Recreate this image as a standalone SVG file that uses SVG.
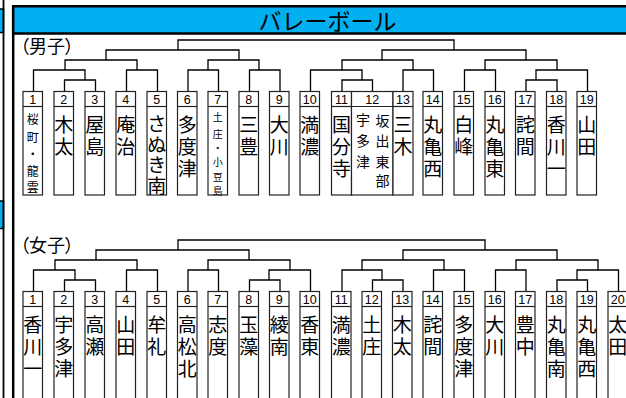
<svg xmlns="http://www.w3.org/2000/svg" width="626" height="398" viewBox="0 0 626 398">
<style>
.br{fill:none;stroke:#000;stroke-width:1.3}
.box{fill:#fff;stroke:#222;stroke-width:1.2}
.dv{fill:none;stroke:#222;stroke-width:1.2}
.num{font-family:"Liberation Sans",Arial,sans-serif;font-size:12.5px;text-anchor:middle;fill:#000}
.nm{font-family:"Noto Sans CJK JP","Noto Sans CJK SC",sans-serif;font-size:19px;text-anchor:middle;dominant-baseline:central;fill:#000}
.s12{font-size:12px}
.s10{font-size:10px}
.s14{font-size:14px}
.lbl{font-family:"Noto Sans CJK JP","Noto Sans CJK SC",sans-serif;font-size:18px;dominant-baseline:central;font-feature-settings:"palt";fill:#000}
.ttl{font-family:"Noto Sans CJK JP","Noto Sans CJK SC",sans-serif;font-size:23px;text-anchor:middle;dominant-baseline:central;fill:#000}
.hdr{fill:#00B0F0;stroke:#000}
</style>
<rect width="626" height="398" fill="#fff"/>
<g id="left-panel">
<rect class="hdr" x="-6" y="9" width="9.5" height="23.5" stroke-width="1.5"/>
<rect class="hdr" x="-6" y="201" width="9.5" height="27.5" stroke-width="1.5"/>
<line x1="3.5" y1="0" x2="3.5" y2="398" stroke="#000" stroke-width="1.8"/>
</g>
<g id="main-panel">
<line x1="13.2" y1="5" x2="13.2" y2="398" stroke="#000" stroke-width="2.5"/>
<rect class="hdr" x="13.2" y="6.25" width="630" height="27.25" stroke-width="2.5"/>
<text class="ttl" x="327.5" y="19.5">バレーボール</text>
<text class="lbl" x="20" y="45">（男子）</text>
<text class="lbl" x="20" y="243.5">（女子）</text>
</g>
<g id="connectors">
<path class="br" d="M178,50V40H454V50M106,60V50H239V60M382,60V50H526V60M65,70V60H137V70M208,70V60H259V70M342,70V60H413V70M485,70V60H557V70M33.5,91.5V70H85V80M64.5,91.5V80H95.5V91.5M126.5,91.5V70H157.5V91.5M188,91.5V70H218.5V91.5M249.5,91.5V70H280V91.5M310.5,91.5V70H362V80M342,91.5V80H372.5V91.5M403,91.5V70H433.5V91.5M464.5,91.5V70H495.5V91.5M536,80V70H587.5V91.5M526,91.5V80H557V91.5"/>
<path class="br" d="M178,250V240H485V250M96,260V250H249V260M403,260V250H557V260M55,270V260H137V270M208,270V260H290V270M362,270V260H444V270M516,270V260H598V270M33.5,291.5V270H75V280M64.5,291.5V280H95.5V291.5M126.5,291.5V270H157.5V291.5M188,291.5V270H218.5V291.5M269,280V270H310.5V291.5M249.5,291.5V280H280V291.5M342,291.5V270H382V280M372.5,291.5V280H403V291.5M433.5,291.5V270H464.5V291.5M495.5,291.5V270H526V291.5M577,280V270H618.5V291.5M557,291.5V280H587.5V291.5"/>
</g>
<g id="m1"><rect class="box" x="23" y="91.5" width="19.5" height="103.5"/><path class="dv" d="M23,106.5h19.5"/><text class="num" x="32.75" y="104">1</text><text class="nm s12"><tspan x="32.75" y="118">桜</tspan><tspan x="32.75" y="136">町</tspan><tspan x="32.75" y="153">・</tspan><tspan x="32.75" y="170">龍</tspan><tspan x="32.75" y="186">雲</tspan></text></g>
<g id="m2"><rect class="box" x="54" y="91.5" width="19.5" height="103.5"/><path class="dv" d="M54,106.5h19.5"/><text class="num" x="63.75" y="104">2</text><text class="nm"><tspan x="63.75" y="123">木</tspan><tspan x="63.75" y="145">太</tspan></text></g>
<g id="m3"><rect class="box" x="85" y="91.5" width="19.5" height="103.5"/><path class="dv" d="M85,106.5h19.5"/><text class="num" x="94.75" y="104">3</text><text class="nm"><tspan x="94.75" y="123">屋</tspan><tspan x="94.75" y="145">島</tspan></text></g>
<g id="m4"><rect class="box" x="116" y="91.5" width="19.5" height="103.5"/><path class="dv" d="M116,106.5h19.5"/><text class="num" x="125.75" y="104">4</text><text class="nm"><tspan x="125.75" y="123">庵</tspan><tspan x="125.75" y="145">治</tspan></text></g>
<g id="m5"><rect class="box" x="147" y="91.5" width="19.5" height="103.5"/><path class="dv" d="M147,106.5h19.5"/><text class="num" x="156.75" y="104">5</text><text class="nm"><tspan x="156.75" y="122">さ</tspan><tspan x="156.75" y="142.5">ぬ</tspan><tspan x="156.75" y="163">き</tspan><tspan x="156.75" y="183.5">南</tspan></text></g>
<g id="m6"><rect class="box" x="177.5" y="91.5" width="19.5" height="103.5"/><path class="dv" d="M177.5,106.5h19.5"/><text class="num" x="187.25" y="104">6</text><text class="nm"><tspan x="187.25" y="123">多</tspan><tspan x="187.25" y="145">度</tspan><tspan x="187.25" y="167">津</tspan></text></g>
<g id="m7"><rect class="box" x="208" y="91.5" width="19.5" height="103.5"/><path class="dv" d="M208,106.5h19.5"/><text class="num" x="217.75" y="104">7</text><text class="nm s10"><tspan x="217.75" y="116">土</tspan><tspan x="217.75" y="133">庄</tspan><tspan x="217.75" y="147">・</tspan><tspan x="217.75" y="161">小</tspan><tspan x="217.75" y="176">豆</tspan><tspan x="217.75" y="190">島</tspan></text></g>
<g id="m8"><rect class="box" x="239" y="91.5" width="19.5" height="103.5"/><path class="dv" d="M239,106.5h19.5"/><text class="num" x="248.75" y="104">8</text><text class="nm"><tspan x="248.75" y="123">三</tspan><tspan x="248.75" y="145">豊</tspan></text></g>
<g id="m9"><rect class="box" x="269.5" y="91.5" width="19.5" height="103.5"/><path class="dv" d="M269.5,106.5h19.5"/><text class="num" x="279.25" y="104">9</text><text class="nm"><tspan x="279.25" y="123">大</tspan><tspan x="279.25" y="145">川</tspan></text></g>
<g id="m10"><rect class="box" x="300" y="91.5" width="19.5" height="103.5"/><path class="dv" d="M300,106.5h19.5"/><text class="num" x="309.75" y="104">10</text><text class="nm"><tspan x="309.75" y="123">満</tspan><tspan x="309.75" y="145">濃</tspan></text></g>
<g id="m11"><rect class="box" x="331.5" y="91.5" width="20" height="103.5"/><path class="dv" d="M331.5,106.5h20"/><text class="num" x="341.5" y="104">11</text><text class="nm"><tspan x="341.5" y="123">国</tspan><tspan x="341.5" y="145">分</tspan><tspan x="341.5" y="167">寺</tspan></text></g>
<g id="m12"><rect class="box" x="351.5" y="91.5" width="41.5" height="103.5"/><path class="dv" d="M351.5,106.5h41.5"/><text class="num" x="372.25" y="104">12</text><text class="nm s14"><tspan x="363" y="119">宇</tspan><tspan x="363" y="140">多</tspan><tspan x="363" y="161">津</tspan></text><text class="nm s14"><tspan x="382.5" y="120">坂</tspan><tspan x="382.5" y="140">出</tspan><tspan x="382.5" y="161">東</tspan><tspan x="382.5" y="180">部</tspan></text></g>
<g id="m13"><rect class="box" x="393" y="91.5" width="20" height="103.5"/><path class="dv" d="M393,106.5h20"/><text class="num" x="403" y="104">13</text><text class="nm"><tspan x="403" y="123">三</tspan><tspan x="403" y="145">木</tspan></text></g>
<g id="m14"><rect class="box" x="423" y="91.5" width="19.5" height="103.5"/><path class="dv" d="M423,106.5h19.5"/><text class="num" x="432.75" y="104">14</text><text class="nm"><tspan x="432.75" y="123">丸</tspan><tspan x="432.75" y="145">亀</tspan><tspan x="432.75" y="167">西</tspan></text></g>
<g id="m15"><rect class="box" x="454" y="91.5" width="19.5" height="103.5"/><path class="dv" d="M454,106.5h19.5"/><text class="num" x="463.75" y="104">15</text><text class="nm"><tspan x="463.75" y="123">白</tspan><tspan x="463.75" y="145">峰</tspan></text></g>
<g id="m16"><rect class="box" x="485" y="91.5" width="19.5" height="103.5"/><path class="dv" d="M485,106.5h19.5"/><text class="num" x="494.75" y="104">16</text><text class="nm"><tspan x="494.75" y="123">丸</tspan><tspan x="494.75" y="145">亀</tspan><tspan x="494.75" y="167">東</tspan></text></g>
<g id="m17"><rect class="box" x="515.5" y="91.5" width="19.5" height="103.5"/><path class="dv" d="M515.5,106.5h19.5"/><text class="num" x="525.25" y="104">17</text><text class="nm"><tspan x="525.25" y="123">詫</tspan><tspan x="525.25" y="145">間</tspan></text></g>
<g id="m18"><rect class="box" x="546.5" y="91.5" width="19.5" height="103.5"/><path class="dv" d="M546.5,106.5h19.5"/><text class="num" x="556.25" y="104">18</text><text class="nm"><tspan x="556.25" y="123">香</tspan><tspan x="556.25" y="145">川</tspan><tspan x="556.25" y="167">一</tspan></text></g>
<g id="m19"><rect class="box" x="577" y="91.5" width="19.5" height="103.5"/><path class="dv" d="M577,106.5h19.5"/><text class="num" x="586.75" y="104">19</text><text class="nm"><tspan x="586.75" y="123">山</tspan><tspan x="586.75" y="145">田</tspan></text></g>
<g id="w1"><rect class="box" x="23" y="291.5" width="19.5" height="120"/><path class="dv" d="M23,306.5h19.5"/><text class="num" x="32.75" y="304">1</text><text class="nm"><tspan x="32.75" y="323">香</tspan><tspan x="32.75" y="345">川</tspan><tspan x="32.75" y="367">一</tspan></text></g>
<g id="w2"><rect class="box" x="54" y="291.5" width="19.5" height="120"/><path class="dv" d="M54,306.5h19.5"/><text class="num" x="63.75" y="304">2</text><text class="nm"><tspan x="63.75" y="323">宇</tspan><tspan x="63.75" y="345">多</tspan><tspan x="63.75" y="367">津</tspan></text></g>
<g id="w3"><rect class="box" x="85" y="291.5" width="19.5" height="120"/><path class="dv" d="M85,306.5h19.5"/><text class="num" x="94.75" y="304">3</text><text class="nm"><tspan x="94.75" y="323">高</tspan><tspan x="94.75" y="345">瀬</tspan></text></g>
<g id="w4"><rect class="box" x="116" y="291.5" width="19.5" height="120"/><path class="dv" d="M116,306.5h19.5"/><text class="num" x="125.75" y="304">4</text><text class="nm"><tspan x="125.75" y="323">山</tspan><tspan x="125.75" y="345">田</tspan></text></g>
<g id="w5"><rect class="box" x="147" y="291.5" width="19.5" height="120"/><path class="dv" d="M147,306.5h19.5"/><text class="num" x="156.75" y="304">5</text><text class="nm"><tspan x="156.75" y="323">牟</tspan><tspan x="156.75" y="345">礼</tspan></text></g>
<g id="w6"><rect class="box" x="177.5" y="291.5" width="19.5" height="120"/><path class="dv" d="M177.5,306.5h19.5"/><text class="num" x="187.25" y="304">6</text><text class="nm"><tspan x="187.25" y="323">高</tspan><tspan x="187.25" y="345">松</tspan><tspan x="187.25" y="367">北</tspan></text></g>
<g id="w7"><rect class="box" x="208" y="291.5" width="19.5" height="120"/><path class="dv" d="M208,306.5h19.5"/><text class="num" x="217.75" y="304">7</text><text class="nm"><tspan x="217.75" y="323">志</tspan><tspan x="217.75" y="345">度</tspan></text></g>
<g id="w8"><rect class="box" x="239" y="291.5" width="19.5" height="120"/><path class="dv" d="M239,306.5h19.5"/><text class="num" x="248.75" y="304">8</text><text class="nm"><tspan x="248.75" y="323">玉</tspan><tspan x="248.75" y="345">藻</tspan></text></g>
<g id="w9"><rect class="box" x="269.5" y="291.5" width="19.5" height="120"/><path class="dv" d="M269.5,306.5h19.5"/><text class="num" x="279.25" y="304">9</text><text class="nm"><tspan x="279.25" y="323">綾</tspan><tspan x="279.25" y="345">南</tspan></text></g>
<g id="w10"><rect class="box" x="300" y="291.5" width="19.5" height="120"/><path class="dv" d="M300,306.5h19.5"/><text class="num" x="309.75" y="304">10</text><text class="nm"><tspan x="309.75" y="323">香</tspan><tspan x="309.75" y="345">東</tspan></text></g>
<g id="w11"><rect class="box" x="331.5" y="291.5" width="19.5" height="120"/><path class="dv" d="M331.5,306.5h19.5"/><text class="num" x="341.25" y="304">11</text><text class="nm"><tspan x="341.25" y="323">満</tspan><tspan x="341.25" y="345">濃</tspan></text></g>
<g id="w12"><rect class="box" x="362" y="291.5" width="19.5" height="120"/><path class="dv" d="M362,306.5h19.5"/><text class="num" x="371.75" y="304">12</text><text class="nm"><tspan x="371.75" y="323">土</tspan><tspan x="371.75" y="345">庄</tspan></text></g>
<g id="w13"><rect class="box" x="392.5" y="291.5" width="19.5" height="120"/><path class="dv" d="M392.5,306.5h19.5"/><text class="num" x="402.25" y="304">13</text><text class="nm"><tspan x="402.25" y="323">木</tspan><tspan x="402.25" y="345">太</tspan></text></g>
<g id="w14"><rect class="box" x="423" y="291.5" width="19.5" height="120"/><path class="dv" d="M423,306.5h19.5"/><text class="num" x="432.75" y="304">14</text><text class="nm"><tspan x="432.75" y="323">詫</tspan><tspan x="432.75" y="345">間</tspan></text></g>
<g id="w15"><rect class="box" x="454" y="291.5" width="19.5" height="120"/><path class="dv" d="M454,306.5h19.5"/><text class="num" x="463.75" y="304">15</text><text class="nm"><tspan x="463.75" y="323">多</tspan><tspan x="463.75" y="345">度</tspan><tspan x="463.75" y="367">津</tspan></text></g>
<g id="w16"><rect class="box" x="485" y="291.5" width="19.5" height="120"/><path class="dv" d="M485,306.5h19.5"/><text class="num" x="494.75" y="304">16</text><text class="nm"><tspan x="494.75" y="323">大</tspan><tspan x="494.75" y="345">川</tspan></text></g>
<g id="w17"><rect class="box" x="515.5" y="291.5" width="19.5" height="120"/><path class="dv" d="M515.5,306.5h19.5"/><text class="num" x="525.25" y="304">17</text><text class="nm"><tspan x="525.25" y="323">豊</tspan><tspan x="525.25" y="345">中</tspan></text></g>
<g id="w18"><rect class="box" x="546.5" y="291.5" width="19.5" height="120"/><path class="dv" d="M546.5,306.5h19.5"/><text class="num" x="556.25" y="304">18</text><text class="nm"><tspan x="556.25" y="323">丸</tspan><tspan x="556.25" y="345">亀</tspan><tspan x="556.25" y="367">南</tspan></text></g>
<g id="w19"><rect class="box" x="577" y="291.5" width="19.5" height="120"/><path class="dv" d="M577,306.5h19.5"/><text class="num" x="586.75" y="304">19</text><text class="nm"><tspan x="586.75" y="323">丸</tspan><tspan x="586.75" y="345">亀</tspan><tspan x="586.75" y="367">西</tspan></text></g>
<g id="w20"><rect class="box" x="608" y="291.5" width="19.5" height="120"/><path class="dv" d="M608,306.5h19.5"/><text class="num" x="617.75" y="304">20</text><text class="nm"><tspan x="617.75" y="323">太</tspan><tspan x="617.75" y="345">田</tspan></text></g>
</svg>
